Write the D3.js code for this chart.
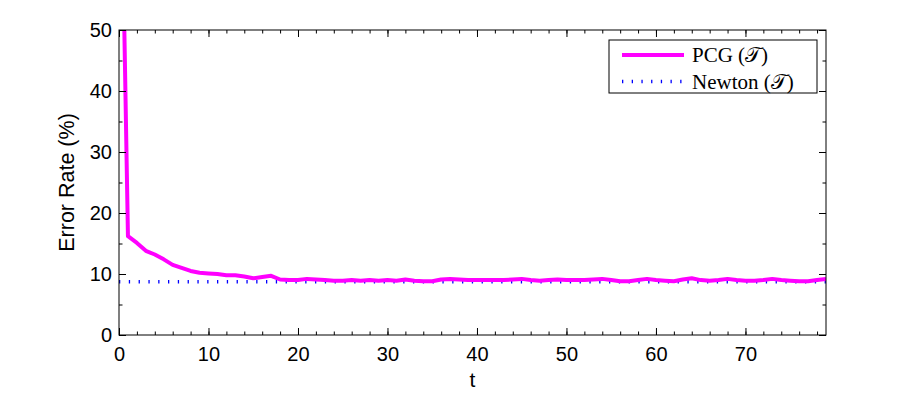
<!DOCTYPE html>
<html>
<head>
<meta charset="utf-8">
<script src="https://cdn.jsdelivr.net/npm/d3@7"></script>
<style>
  body { margin: 0; background: #fff; }
  svg text { font-family: "Liberation Sans", Arial, sans-serif; }
</style>
</head>
<body>
<div id="container"></div>
<script>
// PCG error rate per iteration t (t = 0 starts far above the axis and is clipped)
const pcgErr = [100, 16.2, 15.1, 13.8, 13.2, 12.4, 11.5, 11.0, 10.5, 10.2,
    10.1, 10.0, 9.8, 9.8, 9.6, 9.3, 9.5, 9.7, 9.1, 9.0,
    9.0, 9.2, 9.1, 9.0, 8.9, 8.9, 9.0, 8.9, 9.0, 8.9,
    9.0, 8.9, 9.1, 8.9, 8.8, 8.8, 9.1, 9.2, 9.1, 9.0,
    9.0, 9.0, 9.0, 9.0, 9.1, 9.2, 9.0, 8.9, 9.0, 9.1,
    9.0, 9.0, 9.0, 9.1, 9.2, 9.0, 8.8, 8.8, 9.0, 9.2,
    9.0, 8.9, 8.8, 9.1, 9.3, 9.0, 8.9, 9.0, 9.2, 9.0,
    8.9, 8.9, 9.0, 9.2, 9.0, 8.9, 8.8, 8.8, 9.0, 9.2]
const newtonT = [0, 79]
const newtonErr = [8.75, 8.75]
const xTicks = [0, 10, 20, 30, 40, 50, 60, 70]
const yTicks = [0, 10, 20, 30, 40, 50]
const legendLabels = ["PCG (\u{1D4AF})", "Newton (\u{1D4AF})"]

const width = 913, height = 394
const margin = { top: 30, left: 119, right: 87, bottom: 59 }
const innerW = width - margin.left - margin.right
const innerH = height - margin.top - margin.bottom

const svg = d3.select('#container').append('svg')
    .attr('width', width).attr('height', height)

const x = d3.scaleLinear().domain([0, 79]).range([0, innerW])
const y = d3.scaleLinear().domain([0, 50]).range([innerH, 0])

const g = svg.append('g').attr('transform', `translate(${margin.left},${margin.top})`)

g.append('clipPath').attr('id', 'clip')
    .append('rect').attr('width', innerW).attr('height', innerH)

// lines first, axes drawn over them
const line = d3.line().x(d => x(d[0])).y(d => y(d[1]))

g.append('path')
    .attr('clip-path', 'url(#clip)')
    .attr('d', line(newtonT.map((t, i) => [t, newtonErr[i]])))
    .attr('fill', 'none')
    .attr('stroke', '#0000ff')
    .attr('stroke-width', 3.5)
    .attr('stroke-dasharray', '1.3,8.5')

g.append('path')
    .attr('clip-path', 'url(#clip)')
    .attr('d', line(pcgErr.map((v, i) => [i, v])))
    .attr('fill', 'none')
    .attr('stroke', '#ff00ff')
    .attr('stroke-width', 4)
    .attr('stroke-linejoin', 'round')

// axes with inward ticks on all four sides
const xMinor = d3.range(0, 80, 2)
const yMinor = d3.range(0, 51, 5)

const styleAxis = sel => {
    sel.select('.domain').remove()
    sel.selectAll('line').attr('stroke', '#000').attr('stroke-width', 1)
    sel.selectAll('text').attr('font-size', 20).attr('fill', '#000')
}

g.append('g').attr('transform', `translate(0,${innerH})`)
    .call(d3.axisBottom(x).tickValues(xMinor).tickSize(-3.5).tickFormat(''))
    .call(styleAxis)
g.append('g').attr('transform', `translate(0,${innerH})`)
    .call(d3.axisBottom(x).tickValues(xTicks).tickSize(-7).tickPadding(12).tickFormat(d3.format('d')))
    .call(styleAxis)
g.append('g')
    .call(d3.axisTop(x).tickValues(xMinor).tickSize(-3.5).tickFormat(''))
    .call(styleAxis)
g.append('g')
    .call(d3.axisTop(x).tickValues(xTicks).tickSize(-7).tickFormat(''))
    .call(styleAxis)

g.append('g')
    .call(d3.axisLeft(y).tickValues(yMinor).tickSize(-3.5).tickFormat(''))
    .call(styleAxis)
g.append('g')
    .call(d3.axisLeft(y).tickValues(yTicks).tickSize(-7).tickPadding(7).tickFormat(d3.format('d')))
    .call(styleAxis)
g.append('g').attr('transform', `translate(${innerW},0)`)
    .call(d3.axisRight(y).tickValues(yMinor).tickSize(-3.5).tickFormat(''))
    .call(styleAxis)
g.append('g').attr('transform', `translate(${innerW},0)`)
    .call(d3.axisRight(y).tickValues(yTicks).tickSize(-7).tickFormat(''))
    .call(styleAxis)

g.append('rect')
    .attr('width', innerW).attr('height', innerH)
    .attr('fill', 'none').attr('stroke', '#000').attr('stroke-width', 1)

// axis labels
g.append('text')
    .attr('x', innerW / 2).attr('y', innerH + 52)
    .attr('text-anchor', 'middle')
    .attr('font-size', 21)
    .text('t')

g.append('text')
    .attr('transform', `translate(-45,${innerH / 2}) rotate(-90)`)
    .attr('text-anchor', 'middle')
    .attr('font-size', 21.5)
    .text('Error Rate (%)')

// legend
const lg = svg.append('g').attr('transform', 'translate(609,40)')
lg.append('rect')
    .attr('width', 208).attr('height', 53)
    .attr('fill', '#fff').attr('stroke', '#000').attr('stroke-width', 1)

const legendStyles = [
    { stroke: '#ff00ff', width: 4, dash: null },
    { stroke: '#0000ff', width: 3.5, dash: '1.3,8.4' }
]
legendLabels.forEach((lab, i) => {
    const cy = 15 + i * 26.5
    lg.append('line')
        .attr('x1', 13).attr('x2', 75)
        .attr('y1', cy).attr('y2', cy)
        .attr('stroke', legendStyles[i].stroke)
        .attr('stroke-width', legendStyles[i].width)
        .attr('stroke-dasharray', legendStyles[i].dash)
    lg.append('text')
        .attr('x', 83).attr('y', cy + 7)
        .style('font-family', '"Liberation Serif", "Times New Roman", serif')
        .attr('font-size', 21)
        .text(lab)
})
</script>
</body>
</html>
